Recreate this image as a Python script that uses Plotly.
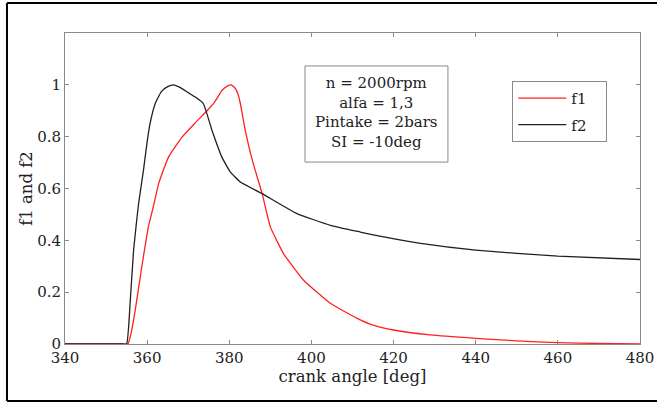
import plotly.graph_objects as go

# crank angle [deg] and f1 values (red)
angle_f1 = [340, 350, 354.0, 355.3, 356.0, 357.1, 358.7, 360.3, 361.5, 362.8, 365.2, 368.5, 371.5,
            374.6, 376.5, 378.2, 379.5, 380.5, 381.5, 382.2, 382.7, 383.9, 385.5,
            388.0, 390.0, 393.2, 398.1, 404.6, 411.0, 415.0, 420.0, 429.0, 440.0,
            450.0, 460.0, 470.0, 480.0]
f1 = [0, 0, 0, 0, 0.035, 0.131, 0.298, 0.452, 0.529, 0.619, 0.721, 0.798, 0.85,
      0.90, 0.935, 0.978, 0.995, 1.0, 0.985, 0.96, 0.927, 0.824, 0.715,
      0.58, 0.452, 0.349, 0.246, 0.157, 0.10, 0.073, 0.054, 0.035, 0.022,
      0.012, 0.005, 0.002, 0.0]

# crank angle [deg] and f2 values (black)
angle_f2 = [340, 350, 354.0, 355.0, 355.9, 356.7, 357.9, 359.1, 360.0, 360.7, 361.95, 363.5,
            365.0, 366.4, 368.0, 370.0, 372.0, 373.7, 375.8, 378.2, 380.2, 382.7,
            388.0, 396.5, 404.6, 411.9, 417.6, 426.6, 440.0, 460.0, 480.0]
f2 = [0, 0, 0, 0, 0.169, 0.362, 0.54, 0.67, 0.78, 0.85, 0.927, 0.975,
      0.993, 1.0, 0.99, 0.97, 0.95, 0.927, 0.824, 0.721, 0.665, 0.625,
      0.58, 0.503, 0.458, 0.432, 0.413, 0.388, 0.362, 0.339, 0.326]

x_ticks = [340, 360, 380, 400, 420, 440, 460, 480]
y_ticks = [0, 0.2, 0.4, 0.6, 0.8, 1]
y_ticktext = ["0", "0.2", "0.4", "0.6", "0.8", "1"]
info_lines = ["n = 2000rpm", "alfa = 1,3", "Pintake = 2bars", "SI = -10deg"]
series_names = ["f1", "f2"]

FONT = "DejaVu Serif, Liberation Serif, serif"
TXT = "#222222"
AXCOL = "#8a8a8a"
PAD = "\u00a0\u00a0\u00a0"

fig = go.Figure()
fig.add_trace(go.Scatter(x=angle_f1, y=f1, mode="lines", name=series_names[0] + PAD,
                         line=dict(color="#ff2020", width=1.3, shape="spline", smoothing=0.4),
                         legendgroup="a"))
fig.add_trace(go.Scatter(x=angle_f2, y=f2, mode="lines", name=series_names[1] + PAD,
                         line=dict(color="#202020", width=1.3, shape="spline", smoothing=0.4),
                         legendgroup="b"))

fig.update_layout(
    width=657, height=404,
    margin=dict(l=65, r=17, t=33, b=60),
    paper_bgcolor="white", plot_bgcolor="white",
    font=dict(family=FONT, size=15, color=TXT),
    showlegend=True,
    legend=dict(x=0.778, y=0.846, xanchor="left", yanchor="top",
                bordercolor=AXCOL, borderwidth=1, bgcolor="white",
                font=dict(family=FONT, size=15, color=TXT),
                itemwidth=48, tracegroupgap=4),
)
fig.update_xaxes(range=[340, 480], tickvals=x_ticks, ticks="inside", ticklen=4,
                 tickcolor=AXCOL, showline=True, linecolor=AXCOL, linewidth=1,
                 mirror="ticks", showgrid=False, zeroline=False, automargin=False,
                 tickfont=dict(family=FONT, size=15, color=TXT),
                 title=dict(text="crank angle [deg]", standoff=4,
                            font=dict(family=FONT, size=16.5, color=TXT)))
fig.update_yaxes(range=[0, 1.2], tickvals=y_ticks, ticktext=y_ticktext, ticks="inside",
                 ticklen=4, tickcolor=AXCOL, showline=True, linecolor=AXCOL, linewidth=1,
                 mirror="ticks", showgrid=False, zeroline=False, automargin=False,
                 tickfont=dict(family=FONT, size=15, color=TXT),
                 title=dict(text="f1 and f2", standoff=0,
                            font=dict(family=FONT, size=16.5, color=TXT)))

# info box
fig.add_shape(type="rect", xref="paper", yref="paper", x0=0.4174, x1=0.666,
              y0=0.585, y1=0.894, line=dict(color=AXCOL, width=1),
              fillcolor="white", layer="above")
fig.add_annotation(xref="paper", yref="paper", x=0.5417, y=0.744, xanchor="center",
                   yanchor="middle", text="<br>".join(info_lines), showarrow=False,
                   align="center", font=dict(family=FONT, size=15, color=TXT))

# outer frame (left, top, bottom edges; right edge lies outside the picture)
frame = dict(color="black", width=2)
fig.add_shape(type="line", xref="paper", yref="paper", x0=-0.1009, x1=-0.1009,
              y0=-0.183, y1=1.0965, line=frame, layer="below")
fig.add_shape(type="line", xref="paper", yref="paper", x0=-0.1009, x1=1.0296,
              y0=1.0965, y1=1.0965, line=frame, layer="below")
fig.add_shape(type="line", xref="paper", yref="paper", x0=-0.1009, x1=1.0296,
              y0=-0.183, y1=-0.183, line=frame, layer="below")

fig.write_html("out.html", config={"displayModeBar": False},
               post_script="document.body.style.margin='0';"
                           "document.body.style.overflow='hidden';"
                           "document.documentElement.style.overflow='hidden';")
